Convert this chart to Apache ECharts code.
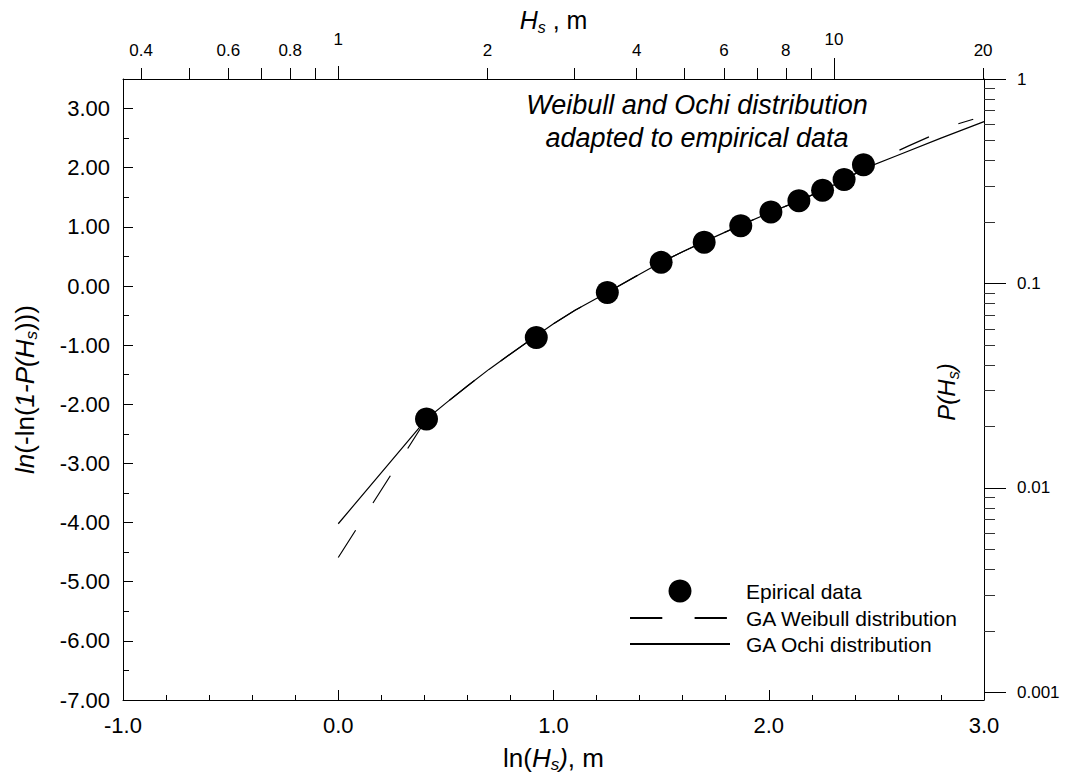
<!DOCTYPE html>
<html><head><meta charset="utf-8">
<script src="https://cdn.jsdelivr.net/npm/echarts@6/dist/echarts.min.js"></script>
<style>html,body{margin:0;padding:0;background:#fff}#c{width:1065px;height:778px}</style>
</head><body><div id="c"></div>
<script>
// ---- data ----
const lnHs      = [0.41, 0.92, 1.25, 1.50, 1.70, 1.87, 2.01, 2.14, 2.25, 2.35, 2.44];
const empirical = [-2.25, -0.87, -0.11, 0.40, 0.74, 1.02, 1.25, 1.44, 1.62, 1.80, 2.05];

const weibullX = [0.00, 0.41, 0.50, 0.60, 0.70, 0.80, 0.91, 1.00, 1.10, 1.25, 1.40, 1.50, 1.60, 1.70, 1.87, 2.01, 2.14, 2.25, 2.35, 2.44, 2.55, 2.65, 2.75, 2.85, 2.95];
const weibullY = [-4.59, -2.25, -1.98, -1.69, -1.41, -1.15, -0.865, -0.64, -0.41, -0.11, 0.20, 0.40, 0.58, 0.75, 1.03, 1.25, 1.44, 1.62, 1.79, 1.98, 2.20, 2.37, 2.53, 2.71, 2.82];

const ochiX = [0.00, 0.41, 0.50, 0.60, 0.70, 0.80, 0.91, 1.00, 1.10, 1.25, 1.40, 1.50, 1.60, 1.70, 1.87, 2.01, 2.14, 2.25, 2.35, 2.44, 2.60, 2.80, 3.00];
const ochiY = [-4.02, -2.25, -1.98, -1.69, -1.41, -1.15, -0.865, -0.64, -0.41, -0.11, 0.20, 0.40, 0.58, 0.75, 1.03, 1.25, 1.44, 1.62, 1.79, 1.98, 2.21, 2.50, 2.78];

const yTicks      = [-7, -6, -5, -4, -3, -2, -1, 0, 1, 2, 3];
const yMinorTicks = [-6.5, -5.5, -4.5, -3.5, -2.5, -1.5, -0.5, 0.5, 1.5, 2.5];
const hsMajorTicks  = [1, 10];
const hsMinorTicks  = [0.4, 0.5, 0.6, 0.7, 0.8, 0.9, 2, 3, 4, 5, 6, 7, 8, 9, 20];
const hsMinorLabels = [0.4, 0.6, 0.8, 2, 4, 6, 8, 20];
const pMajorTicks  = [1, 0.1, 0.01, 0.001];
const pMajorLabels = ['1', '0.1', '0.01', '0.001'];
const pMinorTicks  = [0.9, 0.8, 0.7, 0.6, 0.5, 0.4, 0.3, 0.2,
                      0.09, 0.08, 0.07, 0.06, 0.05, 0.04, 0.03, 0.02,
                      0.009, 0.008, 0.007, 0.006, 0.005, 0.004, 0.003, 0.002];

const seriesNames = ['Epirical data', 'GA Weibull distribution', 'GA Ochi distribution'];

// ---- chart ----
const FONT = 'Liberation Sans';
const BLACK = '#000';
function rich(size) {
  return {
    n: {fontFamily: FONT, fontSize: size, lineHeight: 30, color: BLACK},
    i: {fontFamily: FONT, fontSize: size, lineHeight: 30, color: BLACK, fontStyle: 'italic'},
    s: {fontFamily: FONT, fontSize: Math.round(size * 0.65), lineHeight: 16, color: BLACK, fontStyle: 'italic', verticalAlign: 'bottom'}
  };
}
const zip = (xs, ys) => xs.map((x, i) => [x, ys[i]]);
const near = (a, b) => Math.abs(a - b) < 1e-6;
const lineCol = {color: BLACK, width: 1};

function hidden(extra) {
  return Object.assign({
    type: 'value', splitLine: {show: false}, minorSplitLine: {show: false},
    axisLine: {show: false, onZero: false}, axisTick: {show: false}, axisLabel: {show: false}
  }, extra);
}

const chart = echarts.init(document.getElementById('c'), null, {renderer: 'svg'});
chart.setOption({
  animation: false,
  backgroundColor: '#fff',
  grid: {left: 123, right: 81, top: 79, bottom: 78, outerBoundsMode: 'none'},
  xAxis: [
    {
      type: 'value', position: 'bottom', min: -1, max: 3, interval: 1,
      splitLine: {show: false}, minorSplitLine: {show: false},
      axisLine: {onZero: false, lineStyle: lineCol},
      axisTick: {inside: true, length: 10, lineStyle: lineCol},
      minorTick: {show: true, splitNumber: 5, length: 5, lineStyle: lineCol},
      axisLabel: {fontSize: 22, color: BLACK, fontFamily: FONT, margin: 14, formatter: v => v.toFixed(1)},
      name: '{n|ln(}{i|H}{s|s}{i|)}{n|, m}', nameLocation: 'middle', nameGap: 43, nameMoveOverlap: false,
      nameTextStyle: {rich: rich(26)}
    },
    hidden({
      position: 'top', min: -1, max: 3,
      axisLine: {show: true, onZero: false, lineStyle: lineCol},
      axisTick: {show: true, length: 11, lineStyle: lineCol, customValues: hsMinorTicks.map(Math.log)},
      axisLabel: {show: true, fontSize: 17, color: BLACK, fontFamily: FONT, margin: 20,
        customValues: hsMinorLabels.map(Math.log),
        formatter: v => { const h = hsMinorLabels.find(t => near(Math.log(t), v)); return h === undefined ? '' : String(h); }},
      name: '{i|H}{s|s}{n| , m}', nameLocation: 'middle', nameGap: 44, nameMoveOverlap: false,
      nameTextStyle: {rich: rich(25)}
    }),
    hidden({
      position: 'top', min: -1, max: 3,
      axisTick: {show: true, length: 13, lineStyle: lineCol, customValues: [Math.log(hsMajorTicks[0])]},
      axisLabel: {show: true, fontSize: 17, color: BLACK, fontFamily: FONT, margin: 31,
        customValues: hsMajorTicks.map(Math.log),
        formatter: v => { const h = hsMajorTicks.find(t => near(Math.log(t), v)); return h === undefined ? '' : String(h); }}
    }),
    hidden({
      position: 'top', min: -1, max: 3,
      axisTick: {show: true, length: 21, lineStyle: lineCol, customValues: [Math.log(hsMajorTicks[1])]}
    })
  ],
  yAxis: [
    {
      type: 'value', position: 'left', min: -7, max: 3.5,
      splitLine: {show: false}, minorSplitLine: {show: false},
      axisLine: {onZero: false, lineStyle: lineCol},
      axisTick: {inside: true, length: 10, lineStyle: lineCol, customValues: yTicks},
      axisLabel: {fontSize: 22, color: BLACK, fontFamily: FONT, margin: 13, customValues: yTicks, formatter: v => v.toFixed(2)},
      name: '{i|ln}{n|(-ln(}{i|1-P(H}{s|s}{n|)))}', nameLocation: 'middle', nameGap: 83, nameMoveOverlap: false,
      nameTextStyle: {rich: rich(26)}
    },
    hidden({
      position: 'left', min: -7, max: 3.5,
      axisTick: {show: true, inside: true, length: 6, lineStyle: lineCol, customValues: yMinorTicks}
    }),
    hidden({
      position: 'right', min: -3.037, max: 0,
      axisLine: {show: true, onZero: false, lineStyle: lineCol},
      axisTick: {show: true, length: 22, lineStyle: lineCol, customValues: pMajorTicks.map(Math.log10)},
      axisLabel: {show: true, fontSize: 17, color: BLACK, fontFamily: FONT, margin: 33,
        customValues: pMajorTicks.map(Math.log10),
        formatter: v => { const k = pMajorTicks.findIndex(t => near(Math.log10(t), v)); return k < 0 ? '' : pMajorLabels[k]; }}
    }),
    hidden({
      position: 'right', min: -3.037, max: 0,
      axisTick: {show: true, length: 11, lineStyle: {color: '#333', width: 1}, customValues: pMinorTicks.map(Math.log10)}
    })
  ],
  legend: {
    orient: 'vertical', left: 629, top: 579.5, itemWidth: 100, itemHeight: 23, itemGap: 5, padding: 0,
    selectedMode: false,
    data: [
      {name: seriesNames[0], itemStyle: {color: BLACK, opacity: 1}},
      {name: seriesNames[1], itemStyle: {color: 'transparent', opacity: 0, borderWidth: 0}},
      {name: seriesNames[2], itemStyle: {color: 'transparent', opacity: 0, borderWidth: 0}}
    ],
    textStyle: {fontSize: 21, color: BLACK, fontFamily: FONT, padding: [0, 0, 0, 11]}
  },
  graphic: [
    {type: 'text', x: 697, y: 88.5, z: 10,
      style: {text: 'Weibull and Ochi distribution\nadapted to empirical data', fontFamily: FONT, fontSize: 27, fontStyle: 'italic',
        align: 'center', verticalAlign: 'top', lineHeight: 33, fill: BLACK}},
    {type: 'text', x: 946, y: 392, rotation: Math.PI / 2, z: 10,
      style: {text: '{i|P(H}{s|s}{i|)}', rich: rich(24), align: 'center', verticalAlign: 'middle', fill: BLACK}}
  ],
  series: [
    {name: seriesNames[1], type: 'line', xAxisIndex: 0, yAxisIndex: 0, data: zip(weibullX, weibullY),
      symbol: 'none', z: 3, lineStyle: {color: BLACK, width: 1.2, type: [32.3, 32.3], dashOffset: 0}, itemStyle: {color: BLACK}},
    {name: seriesNames[2], type: 'line', xAxisIndex: 0, yAxisIndex: 0, data: zip(ochiX, ochiY),
      symbol: 'none', z: 3, lineStyle: {color: BLACK, width: 1.2, type: 'solid'}, itemStyle: {color: BLACK}},
    {name: seriesNames[0], type: 'scatter', xAxisIndex: 0, yAxisIndex: 0, data: zip(lnHs, empirical),
      symbol: 'circle', symbolSize: 23, z: 5, itemStyle: {color: BLACK, opacity: 1}}
  ]
});
</script>
</body></html>
